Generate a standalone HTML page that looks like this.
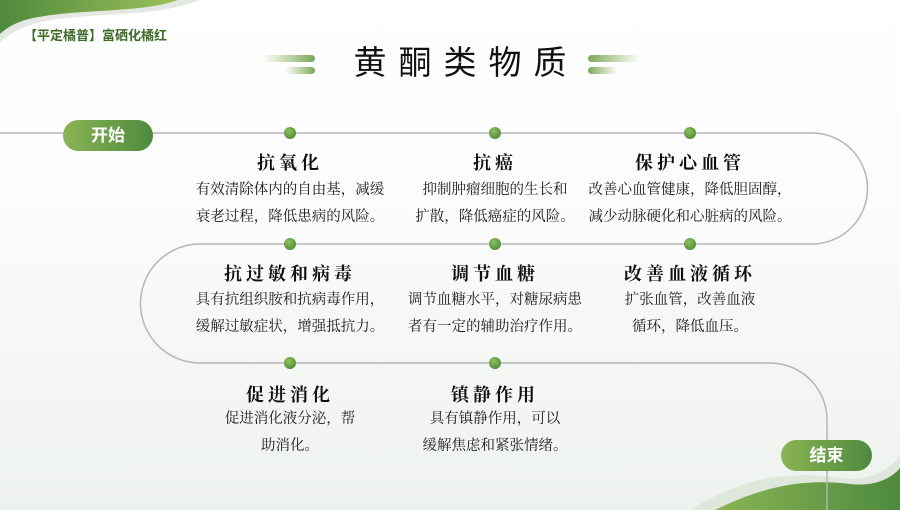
<!DOCTYPE html>
<html><head><meta charset="utf-8"><style>
html,body{margin:0;padding:0}
body{width:900px;height:510px;position:relative;overflow:hidden;background:linear-gradient(180deg,#ffffff 0%,#fbfcfb 40%,#eef2ee 100%);font-family:"Liberation Serif","Noto Serif CJK SC",serif;}
.t{position:absolute;text-align:center;color:#1a1a1a;white-space:nowrap}
.h{font-size:18px;font-weight:bold;letter-spacing:4px;font-family:"Noto Serif CJK SC","WenQuanYi Zen Hei",serif;color:#111}
.b{font-size:14.5px;line-height:27px;font-family:"Noto Serif CJK SC",serif}
.pill{position:absolute;border-radius:17px;color:#fff;font-family:"Liberation Sans","Noto Sans CJK SC",sans-serif;font-weight:bold;font-size:17px;text-align:center;background:linear-gradient(90deg,#8ab454,#4e8a3e)}
</style></head><body>
<svg width="900" height="510" style="position:absolute;left:0;top:0">
<defs>
<linearGradient id="g1" x1="0" x2="1"><stop offset="0" stop-color="#4f8a3d"/><stop offset="1" stop-color="#9cc05a"/></linearGradient>
<linearGradient id="g2" x1="0" x2="1"><stop offset="0" stop-color="#8ab454"/><stop offset="1" stop-color="#4e8a3e"/></linearGradient>
<linearGradient id="bl" x1="0" x2="1"><stop offset="0" stop-color="#8ab454" stop-opacity="0"/><stop offset="1" stop-color="#7aa65a"/></linearGradient>
<linearGradient id="br" x1="0" x2="1"><stop offset="0" stop-color="#7aa65a"/><stop offset="1" stop-color="#8ab454" stop-opacity="0"/></linearGradient>
<radialGradient id="dot" cx="0.4" cy="0.35" r="0.7"><stop offset="0" stop-color="#8fc05a"/><stop offset="1" stop-color="#4e8a3e"/></radialGradient>
</defs>
<path d="M0,0 L200,0 C150,20 80,10 30,25 C15,30 5,38 0,42 Z" fill="#e4e8e2"/>
<path d="M0,0 L178,0 C140,14 70,8 25,20 C12,24 4,30 0,34 Z" fill="url(#g1)"/>
<path d="M690,510 C740,480 780,470 840,478 C870,482 890,470 900,455 L900,510 Z" fill="#dfe6dc"/>
<path d="M715,510 C760,488 800,478 850,484 C875,487 892,478 900,468 L900,510 Z" fill="url(#g2)"/>
<rect x="262" y="55" width="53" height="7" rx="3.5" fill="url(#bl)"/>
<rect x="285" y="67" width="30" height="7" rx="3.5" fill="url(#bl)"/>
<rect x="588" y="55" width="53" height="7" rx="3.5" fill="url(#br)"/>
<rect x="588" y="67" width="30" height="7" rx="3.5" fill="url(#br)"/>
<path d="M0,133 L812,133 A55.5,55.5 0 0 1 812,244 L200,244 A59.5,59.5 0 0 0 200,363 L770,363 A57,57 0 0 1 827,420 L827,510" fill="none" stroke="#b5b5b5" stroke-width="1.5"/>
<g fill="url(#dot)">
<circle cx="290" cy="133" r="6"/><circle cx="495" cy="133" r="6"/><circle cx="690" cy="133" r="6"/>
<circle cx="290" cy="244" r="6"/><circle cx="495" cy="244" r="6"/><circle cx="690" cy="244" r="6"/>
<circle cx="290" cy="363" r="6"/><circle cx="495" cy="363" r="6"/>
</g>
</svg>
<div class="t" style="left:24px;top:25px;font-size:13px;font-weight:bold;color:#3d6b2a;font-family:'Liberation Sans','Noto Sans CJK SC',sans-serif">【平定橘普】富硒化橘红</div>
<div class="t" style="left:330px;width:260px;top:36px;font-size:33px;letter-spacing:12px;text-indent:12px;font-family:'Noto Sans CJK SC',sans-serif;color:#111">黄酮类物质</div>
<div class="pill" style="left:63px;top:120px;width:90px;height:31px;line-height:31px">开始</div>
<div class="pill" style="left:781px;top:440px;width:91px;height:31px;line-height:31px">结束</div>

<div class="t h" style="left:190px;width:200px;top:149px">抗氧化</div>
<div class="t b" style="left:180px;width:220px;top:175px">有效清除体内的自由基，减缓<br>衰老过程，降低患病的风险。</div>
<div class="t h" style="left:395px;width:200px;top:149px">抗癌</div>
<div class="t b" style="left:385px;width:220px;top:175px">抑制肿瘤细胞的生长和<br>扩散，降低癌症的风险。</div>
<div class="t h" style="left:590px;width:200px;top:149px">保护心血管</div>
<div class="t b" style="left:570px;width:240px;top:175px">改善心血管健康，降低胆固醇，<br>减少动脉硬化和心脏病的风险。</div>

<div class="t h" style="left:190px;width:200px;top:260px">抗过敏和病毒</div>
<div class="t b" style="left:180px;width:220px;top:285px">具有抗组织胺和抗病毒作用，<br>缓解过敏症状，增强抵抗力。</div>
<div class="t h" style="left:395px;width:200px;top:260px">调节血糖</div>
<div class="t b" style="left:385px;width:220px;top:285px">调节血糖水平，对糖尿病患<br>者有一定的辅助治疗作用。</div>
<div class="t h" style="left:590px;width:200px;top:260px">改善血液循环</div>
<div class="t b" style="left:580px;width:220px;top:285px">扩张血管，改善血液<br>循环，降低血压。</div>

<div class="t h" style="left:190px;width:200px;top:381px">促进消化</div>
<div class="t b" style="left:180px;width:220px;top:404px">促进消化液分泌，帮<br>助消化。</div>
<div class="t h" style="left:395px;width:200px;top:381px">镇静作用</div>
<div class="t b" style="left:385px;width:220px;top:404px">具有镇静作用，可以<br>缓解焦虑和紧张情绪。</div>
</body></html>
